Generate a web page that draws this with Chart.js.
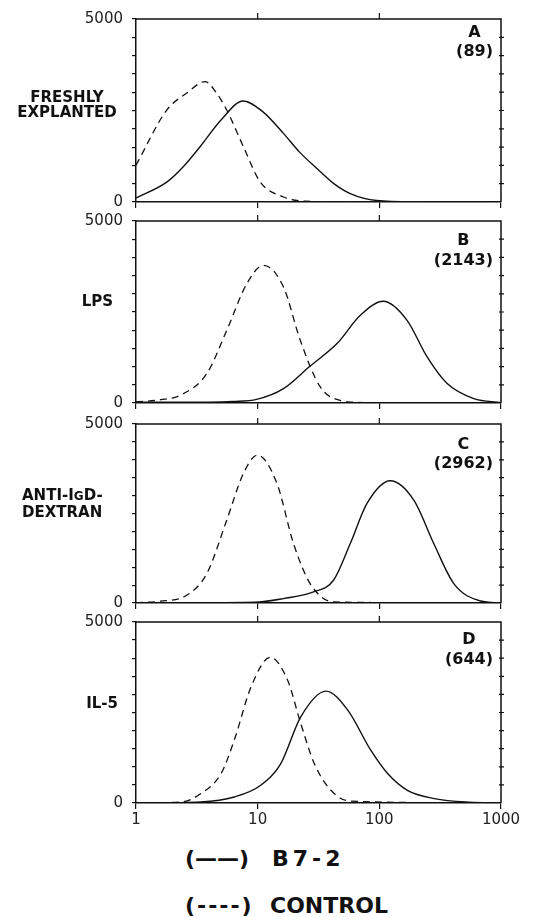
<!DOCTYPE html>
<html>
<head>
<meta charset="utf-8">
<script src="https://cdn.jsdelivr.net/npm/chart.js@4"></script>
<style>
  body { margin: 0; background: #fff; }
  #wrap { position: relative; width: 545px; height: 917px; overflow: hidden; font-family: "DejaVu Sans", sans-serif; color: #111; }
  canvas { position: absolute; left: 0; }
  .lbl { position: absolute; font-weight: bold; font-size: 15px; line-height: 15px; white-space: nowrap; }
  .tag { position: absolute; font-weight: bold; font-size: 16px; text-align: center; white-space: nowrap; }
  .sc { font-size: 12px; }
  .leg { position: absolute; font-weight: bold; font-size: 22px; line-height: 22px; white-space: nowrap; }
</style>
</head>
<body>
<div id="wrap">
  <canvas id="panel-a" width="545" height="220"></canvas>
  <canvas id="panel-b" width="545" height="220"></canvas>
  <canvas id="panel-c" width="545" height="220"></canvas>
  <canvas id="panel-d" width="545" height="240"></canvas>

  <div class="lbl" style="left:0;width:134px;text-align:center;top:90px">FRESHLY<br>EXPLANTED</div>
  <div class="lbl" style="left:0;width:113px;text-align:right;top:294px">LPS</div>
  <div class="lbl" style="left:22px;top:487px;line-height:16px">ANTI-I<span class="sc">G</span>D-<br>DEXTRAN</div>
  <div class="lbl" style="left:0;width:118px;text-align:right;top:696px">IL-5</div>

  <div class="tag" style="right:52px;top:22px;line-height:19px">A<br>(89)</div>
  <div class="tag" style="right:52px;top:230px;line-height:20px">B<br>(2143)</div>
  <div class="tag" style="right:52px;top:434px;line-height:19px">C<br>(2962)</div>
  <div class="tag" style="right:52px;top:629px;line-height:20px">D<br>(644)</div>

  <div class="leg" style="left:185px;top:848px">(——)</div>
  <div class="leg" style="left:272px;top:848px;letter-spacing:4px">B7-2</div>
  <div class="leg" style="left:185px;top:895px;letter-spacing:2px">(----)</div>
  <div class="leg" style="left:270px;top:895px">CONTROL</div>
</div>

<script>
// fluorescence (log) vs cell number
const xTicks = [1, 10, 100, 1000];
const yTicks = [0, 5000];

const aSolidX = [1, 1.8, 2.5, 3.36, 5, 7.6, 11, 16.3, 22, 30.7, 42, 57.7, 95, 200, 1000];
const aSolidY = [110, 550, 1000, 1510, 2240, 2760, 2470, 1875, 1370, 915, 510, 230, 40, 5, 0];
const aCtrlX = [1, 1.79, 2.6, 3.7, 4.6, 5.57, 7.64, 10.5, 16.3, 25, 50, 1000];
const aCtrlY = [1006, 2513, 2970, 3290, 2970, 2513, 1508, 548, 137, 20, 0, 0];

const bSolidX = [1, 4, 6.3, 9.8, 16.3, 27, 44.9, 69.8, 108, 169, 247, 361, 597, 1000];
const bSolidY = [20, 20, 40, 100, 396, 1016, 1632, 2409, 2794, 2272, 1264, 533, 121, 10];
const bCtrlX = [1, 1.6, 2.3, 3.82, 5.57, 8.15, 11.2, 16.3, 22.4, 32.7, 47.6, 80, 1000];
const bCtrlY = [30, 90, 211, 807, 1997, 3280, 3783, 3187, 1722, 440, 74, 10, 0];

const cSolidX = [1, 9.4, 16.3, 28.8, 42, 57.7, 79.2, 123, 192, 280, 409, 678, 1000];
const cSolidY = [0, 20, 123, 308, 635, 1662, 2781, 3414, 2873, 1662, 543, 56, 0];
const cCtrlX = [1, 1.58, 2.61, 3.82, 5.57, 7.64, 9.96, 14.4, 19.7, 27, 42, 1000];
const cCtrlY = [10, 50, 215, 822, 2314, 3620, 4132, 3340, 1662, 543, 28, 0];

const dSolidX = [1, 3.4, 6.42, 10.6, 15.5, 22.6, 36.4, 55, 85, 117, 170, 284, 550, 1000];
const dSolidY = [0, 30, 166, 490, 1090, 2380, 3090, 2565, 1458, 813, 351, 122, 20, 0];
const dCtrlX = [1, 2.34, 3.42, 5.0, 6.42, 8.83, 12.7, 17.6, 22.6, 29.2, 40, 58, 1000];
const dCtrlY = [0, 28, 260, 813, 1735, 3210, 4023, 3395, 2197, 1090, 351, 50, 0];

const ink = '#111';
const yStep = 500;

function pts(xs, ys) {
    return xs.map((x, i) => ({ x: x, y: ys[i] }));
}

// top border, right border and the small ticks on those sides
const framePlugin = {
    id: 'frame',
    afterDraw(chart) {
        const ctx = chart.ctx;
        const a = chart.chartArea;
        const sx = chart.scales.x;
        const sy = chart.scales.y;
        ctx.save();
        ctx.strokeStyle = ink;
        ctx.lineWidth = 1.5;
        ctx.beginPath();
        ctx.moveTo(a.left, a.top);
        ctx.lineTo(a.right, a.top);
        ctx.lineTo(a.right, a.bottom);
        ctx.stroke();
        ctx.lineWidth = 1.2;
        ctx.beginPath();
        xTicks.slice(1, -1).forEach(v => {
            const px = sx.getPixelForValue(v);
            ctx.moveTo(px, a.top);
            ctx.lineTo(px, a.top - 6);
        });
        for (let v = yStep; v < 5000; v += yStep) {
            const py = sy.getPixelForValue(v);
            ctx.moveTo(a.right - 2, py);
            ctx.lineTo(a.right + 3, py);
        }
        ctx.stroke();
        ctx.restore();
    }
};

// areaTop / areaBottom: where the plot box sits on the page
function makePanel(id, solidX, solidY, ctrlX, ctrlY, showX, areaTop, areaBottom) {
    const canvas = document.getElementById(id);
    const chart = new Chart(canvas, {
        type: 'line',
        data: {
            datasets: [{
                label: 'B7-2',
                data: pts(solidX, solidY),
                borderColor: ink,
                borderWidth: 1.4,
                pointRadius: 0,
                cubicInterpolationMode: 'monotone'
            }, {
                label: 'CONTROL',
                data: pts(ctrlX, ctrlY),
                borderColor: ink,
                borderWidth: 1.3,
                borderDash: [7, 5],
                pointRadius: 0,
                cubicInterpolationMode: 'monotone'
            }]
        },
        options: {
            responsive: false,
            maintainAspectRatio: false,
            animation: false,
            devicePixelRatio: 1,
            layout: { padding: { top: 10, right: 44, left: 0, bottom: 0 } },
            plugins: { legend: { display: false }, tooltip: { enabled: false } },
            scales: {
                x: {
                    type: 'logarithmic',
                    min: 1,
                    max: 1000,
                    afterBuildTicks: s => { s.ticks = xTicks.map(v => ({ value: v })); },
                    afterFit: s => { s.height = showX ? 30 : 10; },
                    grid: { drawOnChartArea: false, tickLength: 6, color: ink, lineWidth: 1.2 },
                    border: { color: ink, width: 1.5 },
                    ticks: {
                        display: showX,
                        padding: 2,
                        color: '#222',
                        font: { family: 'DejaVu Sans', size: 15 },
                        callback: v => String(v)
                    }
                },
                y: {
                    min: 0,
                    max: 5000,
                    afterFit: s => { s.width = 136; },
                    grid: { drawOnChartArea: false, tickLength: 4, color: ink, lineWidth: 1.2 },
                    border: { color: ink, width: 1.5 },
                    ticks: {
                        stepSize: yStep,
                        autoSkip: false,
                        padding: 9,
                        color: '#222',
                        font: { family: 'DejaVu Sans', size: 15 },
                        callback: v => yTicks.includes(v) ? String(v) : ''
                    }
                }
            }
        },
        plugins: [framePlugin]
    });

    // size the canvas so the plot box lands where it is in the figure
    const a = chart.chartArea;
    const overhead = chart.height - (a.bottom - a.top);
    chart.resize(545, Math.round(overhead + areaBottom - areaTop));
    canvas.style.top = (areaTop - chart.chartArea.top) + 'px';
}

makePanel('panel-a', aSolidX, aSolidY, aCtrlX, aCtrlY, false, 19, 201.5);
makePanel('panel-b', bSolidX, bSolidY, bCtrlX, bCtrlY, false, 221, 402.5);
makePanel('panel-c', cSolidX, cSolidY, cCtrlX, cCtrlY, false, 424, 603);
makePanel('panel-d', dSolidX, dSolidY, dCtrlX, dCtrlY, true, 622, 803);
</script>
</body>
</html>
